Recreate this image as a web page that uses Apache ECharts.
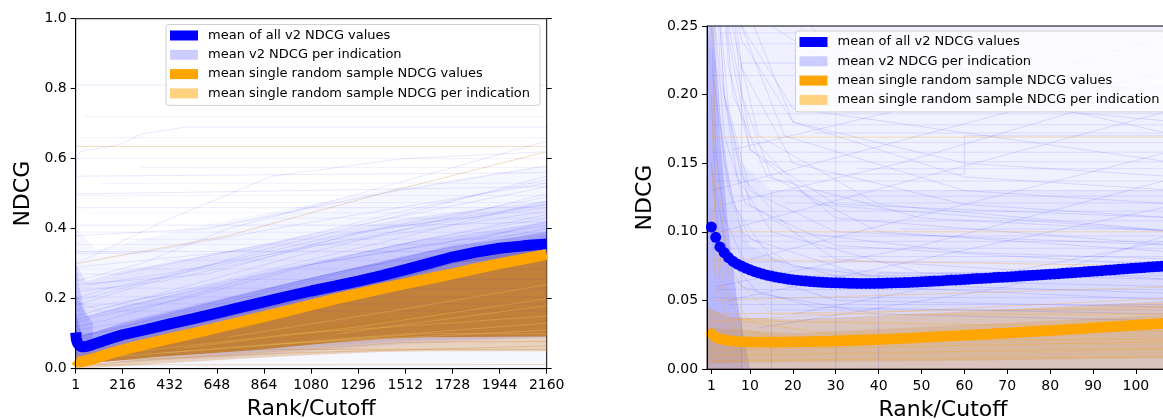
<!DOCTYPE html>
<html>
<head>
<meta charset="utf-8">
<script src="https://cdn.jsdelivr.net/npm/echarts@6/dist/echarts.min.js"></script>
<style>
html,body{margin:0;padding:0;background:#fff;}
#chart{width:1163px;height:419px;}
</style>
</head>
<body>
<div id="chart"></div>
<script>
// ---------- tick labels ----------
const xTicksLeft = [1,216,432,648,864,1080,1296,1512,1728,1944,2160];
const xTicksRight = [1,10,20,30,40,50,60,70,80,90,100];

// ---------- legend names ----------
const NAME_V2 = 'mean of all v2 NDCG values';
const NAME_V2_IND = 'mean v2 NDCG per indication';
const NAME_RAND = 'mean single random sample NDCG values';
const NAME_RAND_IND = 'mean single random sample NDCG per indication';

// ---------- left panel: mean curves (sampled ranks) ----------
const ranksLeft = [1,2,3,5,10,20,30,40,50,75,100,150,216,324,432,540,648,756,864,972,1080,1188,1296,1404,1512,1620,1728,1836,1944,2052,2160];
const meanV2Left = [.1035,.096,.089,.0812,.0723,.0651,.0628,.0624,.0636,.068,.0736,.084,.097,.112,.128,.143,.159,.175,.191,.207,.222,.236,.2505,.266,.283,.301,.319,.333,.344,.351,.356];
const meanRandLeft = [.0255,.0232,.022,.0207,.0197,.0198,.0204,.0215,.023,.0272,.032,.042,.054,.070,.0857,.101,.117,.133,.149,.165,.182,.199,.214,.229,.243,.257,.271,.286,.300,.313,.3266];

// ---------- right panel: mean curves (every rank) ----------
const ranksRight = [1,2,3,4,5,6,7,8,9,10,11,12,13,14,15,16,17,18,19,20,21,22,23,24,25,26,27,28,29,30,31,32,33,34,35,36,37,38,39,40,41,42,43,44,45,46,47,48,49,50,51,52,53,54,55,56,57,58,59,60,61,62,63,64,65,66,67,68,69,70,71,72,73,74,75,76,77,78,79,80,81,82,83,84,85,86,87,88,89,90,91,92,93,94,95,96,97,98,99,100,101,102,103,104,105,106,107,108,109,110];
const meanV2Right = [
.1035,.0960,.0890,.0848,.0812,.0786,.0766,.0750,.0736,.0723,
.0711,.0701,.0692,.0684,.0677,.0670,.0665,.0660,.0655,.0651,
.0647,.0644,.0641,.0638,.0636,.0634,.0632,.0630,.0629,.0628,
.0627,.0626,.0625,.0625,.0624,.0624,.0624,.0624,.0624,.0625,
.0625,.0626,.0627,.0628,.0629,.0630,.0631,.0633,.0634,.0636,
.0637,.0639,.0641,.0642,.0644,.0646,.0648,.0649,.0651,.0653,
.0655,.0657,.0659,.0660,.0662,.0664,.0666,.0668,.0669,.0671,
.0673,.0675,.0677,.0679,.0681,.0683,.0685,.0687,.0689,.0691,
.0693,.0695,.0697,.0699,.0701,.0704,.0706,.0708,.0710,.0713,
.0715,.0717,.0720,.0722,.0724,.0727,.0729,.0731,.0734,.0736,
.0738,.0740,.0743,.0745,.0747,.0749,.0751,.0753,.0755,.0757];
const meanRandRight = [
.0255,.0232,.0220,.0212,.0207,.0204,.0201,.0199,.0198,.0197,
.0197,.0196,.0196,.0196,.0196,.0196,.0197,.0197,.0197,.0198,
.0198,.0199,.0199,.0200,.0200,.0201,.0202,.0202,.0203,.0204,
.0205,.0206,.0207,.0208,.0209,.0210,.0211,.0212,.0213,.0215,
.0216,.0217,.0219,.0220,.0222,.0223,.0225,.0226,.0228,.0230,
.0231,.0233,.0234,.0236,.0238,.0239,.0241,.0243,.0244,.0246,
.0248,.0249,.0251,.0253,.0254,.0256,.0258,.0259,.0261,.0263,
.0265,.0266,.0268,.0270,.0272,.0273,.0275,.0277,.0279,.0281,
.0282,.0284,.0286,.0288,.0290,.0292,.0294,.0296,.0298,.0300,
.0302,.0304,.0306,.0308,.0310,.0312,.0314,.0316,.0318,.0320,
.0322,.0324,.0326,.0328,.0330,.0332,.0334,.0336,.0338,.0340];

// ---------- per-indication haze (density envelopes) : [rank, low, high] ----------
const hazeV2FaintLeft = [[1,0,0.40],[100,0,0.34],[500,0,0.40],[1000,0,0.46],[1500,0,0.52],[2160,0,0.58]];
const hazeV2MidLeft = [[1,0.02,0.30],[50,0.02,0.25],[216,0.02,0.28],[648,0.03,0.33],[1080,0.05,0.38],[1512,0.07,0.43],[2160,0.09,0.48]];
const hazeV2DenseLeft = [[1,0.02,0.22],[50,0.02,0.15],[216,0.03,0.18],[648,0.04,0.24],[1080,0.06,0.30],[1512,0.08,0.36],[2160,0.09,0.42]];
const hazeV2NearLeft = [[1,0.06,0.16],[30,0.05,0.095],[216,0.08,0.13],[648,0.14,0.195],[1080,0.2,0.26],[1512,0.26,0.32],[1728,0.3,0.35],[2160,0.33,0.39]];
const hazeV2EdgeLeft = [[1,0.03,0.34],[5,0.04,0.30],[15,0.05,0.24],[40,0.06,0.17],[80,0.07,0.13]];
const hazeMixLeft = [[1,0.025,0.1],[30,0.02,0.062],[216,0.054,0.097],[648,0.117,0.159],[1080,0.182,0.222],[1512,0.243,0.283],[1728,0.271,0.319],[2160,0.3266,0.356]];
const hazeRandDenseLeft = [[1,0.008,0.025],[100,0.018,0.032],[400,0.035,0.081],[800,0.052,0.140],[1100,0.07,0.185],[1400,0.085,0.228],[1600,0.09,0.254],[2160,0.092,0.3266]];
const hazeRandLightLeft = [[1,0,0.008],[400,0.015,0.035],[800,0.03,0.052],[1100,0.04,0.07],[1400,0.048,0.085],[1600,0.05,0.09],[2160,0.05,0.092]];

const hazeV2AllRight = [[0,0,0.25],[110,0,0.25]];
const hazeV2MidRight = [[0,0,0.25],[4,0,0.2],[8,0,0.15],[15,0,0.13],[110,0,0.13]];
const hazeV2LowRight = [[0,0,0.25],[3,0,0.18],[6,0,0.12],[10,0,0.09],[20,0,0.075],[50,0,0.07],[110,0,0.075]];
const hazeV2EdgeRight = [[0,0,0.25],[1.5,0,0.25],[3,0,0.17],[5,0,0.1],[7,0,0.05],[10,0,0]];
const hazeRandRight = [[0,0,0.045],[5,0,0.038],[20,0,0.036],[60,0,0.042],[110,0,0.05]];
const hazeRandDenseRight = [[0,0.004,0.03],[20,0.005,0.026],[60,0.006,0.032],[110,0.008,0.04]];

// ---------- individual per-indication curves (polylines [rank, NDCG]) ----------
const v2IndicationLeft = [
 [[1,0.81],[2160,0.81]],
 [[1,0.45],[5,0.6],[20,0.62],[200,0.64],[300,0.67],[500,0.69],[2160,0.69]],
 [[1,0.41],[1600,0.41],[2160,0.42]],
 [[1,0.335],[2160,0.335]],
 [[1,0.25],[300,0.30],[700,0.40],[1300,0.50],[2160,0.65]],
 [[1,0.30],[400,0.42],[900,0.55],[1500,0.60],[2160,0.62]],
 [[1,0.18],[200,0.22],[800,0.33],[1500,0.44],[2160,0.55]],
 [[1,0.15],[300,0.20],[1000,0.32],[2160,0.50]],
 [[1,0.20],[50,0.20],[500,0.28],[1200,0.38],[2160,0.47]],
 [[1,0.12],[150,0.14],[800,0.26],[1600,0.37],[2160,0.43]],
 [[1,0.10],[100,0.10],[700,0.20],[1500,0.32],[2160,0.40]],
 [[1,0.22],[400,0.25],[1100,0.35],[2160,0.45]],
 [[1,0.27],[200,0.27],[900,0.36],[2160,0.52]],
 [[1,0.50],[100,0.50],[2160,0.52]],
 [[1,0.55],[2160,0.56]],
 [[1,0.46],[2160,0.46]],
 [[1,0.38],[600,0.40],[1400,0.50],[2160,0.58]],
 [[1,0.07],[300,0.12],[1000,0.22],[2160,0.38]],
 [[1,0.24],[600,0.27],[1300,0.39],[2160,0.49]],
 [[1,0.14],[250,0.18],[900,0.28],[2160,0.44]],
 [[1,0.09],[500,0.16],[1200,0.27],[2160,0.42]],
 [[1,0.29],[800,0.34],[1500,0.45],[2160,0.54]],
 [[1,0.20],[150,0.23],[700,0.30],[1400,0.40],[2160,0.46]],
 [[1,0.17],[400,0.21],[1000,0.29],[1800,0.37],[2160,0.39]],
 [[1,0.13],[100,0.15],[500,0.2],[1100,0.3],[2160,0.41]],
 [[1,0.26],[60,0.24],[400,0.27],[1000,0.34],[2160,0.47]],
 [[1,0.11],[200,0.13],[600,0.19],[1300,0.29],[2160,0.37]],
 [[1,0.33],[300,0.33],[1000,0.41],[2160,0.53]],
 [[1,0.19],[100,0.17],[600,0.24],[1400,0.36],[2160,0.48]]
];
const flatV2Left = [0.72,0.66,0.6,0.575,0.53,0.495,0.475,0.445,0.43,0.39,0.37,0.355,0.31,0.285,0.255,0.23,0.205,0.185,0.165];
const flatStartLeft = [40,10,1,300,120,1,600,60,900,1,200,1,400,1,700,1,1,1,1];
const randIndicationLeft = [
 [[1,0.635],[2160,0.635]],
 [[1,0.30],[700,0.38],[1400,0.50],[2160,0.62]],
 [[1,0.011],[1100,0.011],[2160,0.012]],
 [[1,0.055],[2160,0.055]],
 [[1,0.02],[1000,0.045],[2160,0.065]],
 [[1,0.03],[800,0.08],[2160,0.16]],
 [[1,0.04],[1200,0.12],[2160,0.2]],
 [[1,0.035],[600,0.07],[1500,0.14],[2160,0.18]],
 [[1,0.01],[1500,0.075],[2160,0.078]]
];
// lighter streaks inside the dense random-sample region
const streakRandLeft = [
 [[300,0.05],[1000,0.1],[2160,0.15]],
 [[500,0.06],[1300,0.12],[2160,0.2]],
 [[200,0.035],[900,0.07],[2160,0.11]],
 [[700,0.09],[1500,0.17],[2160,0.24]],
 [[900,0.07],[2160,0.13]],
 [[1200,0.1],[2160,0.18]],
 [[400,0.045],[1600,0.1],[2160,0.1]]
];
const v2IndicationRight = [
 [[1,0.6],[2,0.4],[3,0.3],[5,0.22],[10,0.16],[30,0.12],[110,0.11]],
 [[1,0.5],[2,0.33],[3,0.26],[5,0.19],[10,0.13],[30,0.1],[110,0.09]],
 [[1,0.45],[2,0.3],[4,0.2],[8,0.14],[20,0.1],[60,0.085],[110,0.08]],
 [[1,1],[2,0.63],[3,0.5],[5,0.39],[10,0.3],[30,0.23],[110,0.2]],
 [[1,1],[2,0.5],[4,0.33],[8,0.22],[20,0.15],[60,0.12],[110,0.11]],
 [[1,0.33],[2,0.22],[4,0.15],[8,0.1],[20,0.075],[60,0.06],[110,0.055]],
 [[1,0.3],[3,0.18],[6,0.12],[15,0.08],[40,0.06],[110,0.05]],
 [[1,0.25],[2,0.16],[4,0.11],[10,0.07],[30,0.05],[110,0.045]],
 [[1,1],[3,0.5],[6,0.35],[15,0.25],[40,0.2],[110,0.18]],
 [[1,0.63],[2,0.45],[4,0.32],[8,0.24],[20,0.18],[60,0.15],[110,0.14]],
 [[1,0.39],[3,0.22],[7,0.14],[15,0.1],[50,0.07],[110,0.065]],
 [[2,0.5],[3,0.35],[5,0.25],[10,0.17],[25,0.12],[110,0.1]],
 [[1,0.2],[2,0.13],[5,0.08],[12,0.055],[40,0.04],[110,0.035]],
 [[1,0.7],[2,0.45],[5,0.26],[12,0.17],[40,0.12],[110,0.1]],
 [[1,0.9],[3,0.45],[7,0.28],[20,0.18],[60,0.14],[110,0.13]],
 [[1,0.15],[3,0.09],[8,0.06],[25,0.045],[110,0.04]],
 [[2,0.3],[4,0.2],[10,0.12],[30,0.08],[110,0.065]],
 [[3,0.35],[5,0.24],[10,0.16],[30,0.11],[110,0.09]],
 [[1,1],[2,0.7],[4,0.48],[9,0.33],[25,0.23],[110,0.17]],
 [[5,0.3],[8,0.2],[15,0.14],[40,0.1],[110,0.085]],
 [[1,0.8],[2,0.55],[4,0.36],[8,0.25],[20,0.19],[110,0.15]],
 [[1,0.35],[2,0.25],[4,0.17],[9,0.12],[30,0.09],[110,0.075]],
 [[1,0.55],[3,0.3],[6,0.2],[14,0.14],[50,0.11],[110,0.1]],
 [[2,0.8],[4,0.4],[8,0.25],[18,0.17],[60,0.13],[110,0.12]],
 [[1,0.28],[2,0.2],[5,0.13],[10,0.095],[40,0.065],[110,0.06]],
 [[8,0],[8,0.223],[110,0.223]],
 [[15,0],[15,0.13],[110,0.13]],
 [[30,0],[30,0.2],[110,0.2]],
 [[1,0.142],[60,0.142],[60,0.17],[110,0.17]],
 [[40,0],[40,0.07],[110,0.07]],
 [[5,0.05],[110,0.12]],
 [[10,0.08],[110,0.16]],
 [[3,0.1],[110,0.19]],
 [[20,0.04],[110,0.095]],
 [[1,0.13],[110,0.22]],
 [[2,0.06],[50,0.09],[110,0.14]],
 [[4,0.12],[45,0.15],[110,0.21]],
 [[12,0.03],[70,0.06],[110,0.1]],
 [[6,0.16],[60,0.2],[110,0.245]]
];
const flatV2Right = [0.245,0.237,0.232,0.214,0.205,0.192,0.186,0.178,0.172,0.165,0.158,0.151,0.146,0.137,0.126,0.121,0.115,0.108,0.102,0.097,0.093,0.088,0.082,0.078,0.068,0.058,0.052,0.047,0.043];
const flatStartRight = [3,2,20,1,50,2,9,1,25,4,1,12,35,2,6,18,1,3,45,2,8,1,26,4,10,2,1,5,15];
const randIndicationRight = [
 [[1,0.169],[110,0.169]],
 [[1,0.05],[110,0.06]],
 [[1,0.2],[2,0.1],[4,0.06],[10,0.035],[110,0.03]],
 [[1,0.15],[3,0.06],[8,0.035],[30,0.025],[110,0.028]],
 [[1,0.3],[2,0.15],[5,0.07],[15,0.04],[110,0.04]],
 [[1,0.01],[110,0.015]],
 [[1,0.1],[110,0.1]],
 [[1,0.04],[110,0.045]],
 [[1,0.08],[110,0.075]],
 [[1,0.12],[2,0.06],[6,0.03],[20,0.02],[110,0.022]],
 [[1,0.035],[110,0.052]],
 [[1,0.014],[110,0.02]],
 [[1,0.006],[110,0.009]]
];

// ---------- chart ----------
const FONT = 'DejaVu Sans';
const chart = echarts.init(document.getElementById('chart'), null, {renderer:'canvas'});

function zip(xs, ys){ return xs.map((x,i)=>[x, ys[i]]); }

function haze(idx, rows, color){
  return {
    type:'custom', xAxisIndex:idx, yAxisIndex:idx*2, silent:true, z:1, clip:true,
    data:[[rows[0][0], rows[0][1]]],
    renderItem:function(params, api){
      const top = rows.map(r => api.coord([r[0], r[2]]));
      const bot = rows.slice().reverse().map(r => api.coord([r[0], r[1]]));
      return {type:'polygon', shape:{points: top.concat(bot)}, style:{fill:color}};
    }
  };
}
function faint(idx, name, pts, color, z){
  return {
    type:'line', name:name, xAxisIndex:idx, yAxisIndex:idx*2, data:pts,
    showSymbol:false, silent:true, z:z || 2, clip:true,
    lineStyle:{color:color, width:1}, itemStyle:{color:color}
  };
}

const series = [];
// left haze
series.push(haze(0, hazeV2FaintLeft, 'rgba(0,0,255,0.035)'));
series.push(haze(0, hazeV2MidLeft, 'rgba(0,0,255,0.07)'));
series.push(haze(0, hazeV2DenseLeft, 'rgba(0,0,255,0.1)'));
series.push(haze(0, hazeV2NearLeft, 'rgba(40,40,220,0.25)'));
series.push(haze(0, hazeV2EdgeLeft, 'rgba(0,0,255,0.12)'));
series.push(haze(0, hazeRandLightLeft, 'rgba(205,140,70,0.35)'));
series.push(haze(0, hazeRandDenseLeft, 'rgba(190,115,25,0.85)'));
series.push(haze(0, hazeMixLeft, 'rgba(100,80,170,0.55)'));
// right haze
series.push(haze(1, hazeV2AllRight, 'rgba(0,0,255,0.06)'));
series.push(haze(1, hazeV2MidRight, 'rgba(0,0,255,0.04)'));
series.push(haze(1, hazeV2LowRight, 'rgba(0,0,255,0.05)'));
series.push(haze(1, hazeV2EdgeRight, 'rgba(0,0,255,0.16)'));
series.push(haze(1, hazeRandRight, 'rgba(220,150,50,0.32)'));
series.push(haze(1, hazeRandDenseRight, 'rgba(205,135,45,0.22)'));

v2IndicationLeft.forEach(p => series.push(faint(0, NAME_V2_IND, p, 'rgba(0,0,255,0.09)')));
flatV2Left.forEach((y,i) => series.push(faint(0, NAME_V2_IND, [[flatStartLeft[i], y], [2160, y]], 'rgba(0,0,255,0.06)')));
randIndicationLeft.forEach(p => series.push(faint(0, NAME_RAND_IND, p, 'rgba(200,120,20,0.25)')));
streakRandLeft.forEach(p => series.push(faint(0, NAME_RAND_IND, p, 'rgba(235,195,90,0.35)', 3)));
v2IndicationRight.forEach(p => series.push(faint(1, NAME_V2_IND, p, 'rgba(0,0,255,0.11)')));
flatV2Right.forEach((y,i) => series.push(faint(1, NAME_V2_IND, [[flatStartRight[i], y], [110, y]], 'rgba(0,0,255,0.09)')));
randIndicationRight.forEach(p => series.push(faint(1, NAME_RAND_IND, p, 'rgba(255,165,0,0.3)')));

// means, left
series.push({type:'line', name:NAME_V2, xAxisIndex:0, yAxisIndex:0, data:zip(ranksLeft, meanV2Left),
  showSymbol:false, silent:true, z:5, lineStyle:{color:'#0000ff', width:11}, itemStyle:{color:'#0000ff'}});
series.push({type:'line', name:NAME_RAND, xAxisIndex:0, yAxisIndex:0, data:zip(ranksLeft, meanRandLeft),
  showSymbol:false, silent:true, z:6, lineStyle:{color:'#ffa500', width:11}, itemStyle:{color:'#ffa500'}});
// means, right
series.push({type:'line', name:NAME_V2, xAxisIndex:1, yAxisIndex:2, data:zip(ranksRight, meanV2Right),
  symbol:'circle', symbolSize:11, showSymbol:true, showAllSymbol:true, silent:true, z:5,
  lineStyle:{color:'#0000ff', width:1, opacity:0}, itemStyle:{color:'#0000ff'}});
series.push({type:'line', name:NAME_RAND, xAxisIndex:1, yAxisIndex:2, data:zip(ranksRight, meanRandRight),
  symbol:'circle', symbolSize:11, showSymbol:true, showAllSymbol:true, silent:true, z:6,
  lineStyle:{color:'#ffa500', width:1, opacity:0}, itemStyle:{color:'#ffa500'}});

const legendItems = [
  {name:NAME_V2, itemStyle:{color:'#0000ff', opacity:1}},
  {name:NAME_V2_IND, itemStyle:{color:'#ccccff', opacity:1}},
  {name:NAME_RAND, itemStyle:{color:'#ffa500', opacity:1}},
  {name:NAME_RAND_IND, itemStyle:{color:'#ffd280', opacity:1}}
];
function legend(left, top){
  return {
    left:left, top:top, orient:'vertical', icon:'rect', itemWidth:28, itemHeight:10, itemGap:5.3,
    padding:[4,10,5,4], borderColor:'#d0d0d0', borderWidth:1, borderRadius:3,
    backgroundColor:'rgba(255,255,255,0.8)', selectedMode:false, z:20,
    textStyle:{fontSize:13, fontFamily:FONT, color:'#000', lineHeight:14, padding:[0,0,0,5]},
    data:legendItems
  };
}

const tickStyle = {show:true, length:5, lineStyle:{color:'#000', width:1}};
const labelStyle = {fontSize:14, color:'#000', fontFamily:FONT};
const nameStyle = {fontSize:22, color:'#000', fontFamily:FONT};

const option = {
  animation:false,
  backgroundColor:'#fff',
  grid:[
    {left:75.7, top:18.7, width:471, height:350, show:true, borderColor:'#000', borderWidth:1, backgroundColor:'transparent', containLabel:false, outerBoundsMode:'none'},
    {left:707.1, top:26, width:471.7, height:343, show:true, borderColor:'#000', borderWidth:1, backgroundColor:'transparent', containLabel:false, outerBoundsMode:'none'}
  ],
  xAxis:[
    {gridIndex:0, type:'value', min:1, max:2160, z:10,
     axisLine:{show:true, onZero:false, lineStyle:{color:'#000', width:1}},
     axisTick:Object.assign({customValues:xTicksLeft}, tickStyle),
     axisLabel:Object.assign({customValues:xTicksLeft, margin:10, formatter:v=>String(v)}, labelStyle),
     splitLine:{show:false},
     name:'Rank/Cutoff', nameLocation:'middle', nameGap:30, nameTextStyle:nameStyle},
    {gridIndex:1, type:'value', min:0, max:110, z:10,
     axisLine:{show:true, onZero:false, lineStyle:{color:'#000', width:1}},
     axisTick:Object.assign({customValues:xTicksRight}, tickStyle),
     axisLabel:Object.assign({customValues:xTicksRight, margin:10, formatter:v=>String(v)}, labelStyle),
     splitLine:{show:false},
     name:'Rank/Cutoff', nameLocation:'middle', nameGap:30, nameTextStyle:nameStyle}
  ],
  yAxis:[
    {gridIndex:0, type:'value', min:0, max:1, interval:0.2, z:10,
     axisLine:{show:true, onZero:false, lineStyle:{color:'#000', width:1}},
     axisTick:tickStyle,
     axisLabel:Object.assign({margin:9, formatter:v=>v.toFixed(1)}, labelStyle),
     splitLine:{show:false},
     name:'NDCG', nameLocation:'middle', nameGap:41, nameTextStyle:nameStyle},
    {gridIndex:0, type:'value', min:0, max:1, interval:0.2, position:'right', z:10,
     axisLine:{show:false}, axisTick:tickStyle, axisLabel:{show:false}, splitLine:{show:false}},
    {gridIndex:1, type:'value', min:0, max:0.25, interval:0.05, z:10,
     axisLine:{show:true, onZero:false, lineStyle:{color:'#000', width:1}},
     axisTick:tickStyle,
     axisLabel:Object.assign({margin:9, formatter:v=>v.toFixed(2)}, labelStyle),
     splitLine:{show:false},
     name:'NDCG', nameLocation:'middle', nameGap:51, nameTextStyle:nameStyle}
  ],
  legend:[legend(166, 24.5), legend(795.5, 31)],
  series:series
};
chart.setOption(option);
</script>
</body>
</html>
